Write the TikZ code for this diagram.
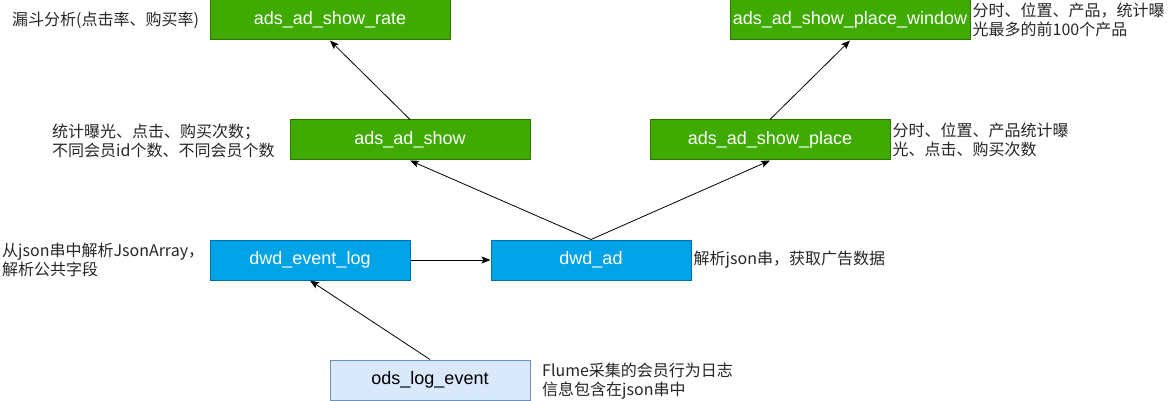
\documentclass[tikz,border=0pt]{standalone}
\usepackage{fontspec}
\setmainfont{Liberation Sans}
\newfontfamily\cjk{Noto Sans CJK SC}
\usepackage{tikz}
\usetikzlibrary{arrows.meta, positioning}

\definecolor{adsgreen}{HTML}{3FAA00}
\definecolor{adsline}{HTML}{2D7600}
\definecolor{dwdblue}{HTML}{00A3E6}
\definecolor{dwdline}{HTML}{006EAF}
\definecolor{odsblue}{HTML}{DAE8FC}
\definecolor{odsline}{HTML}{6C8EBF}

\begin{document}
\begin{tikzpicture}[x=1pt, y=-1pt, >={Stealth[length=9pt, width=7pt, inset=2pt]},
		every node/.style={font=\fontsize{18}{21}\selectfont},
		tbl/.style={draw, line width=1pt, minimum width=240pt, minimum height=40pt, inner sep=0pt, text=white},
		ads/.style={tbl, fill=adsgreen, draw=adsline},
		dwd/.style={tbl, fill=dwdblue, draw=dwdline, minimum width=200pt},
		ods/.style={tbl, fill=odsblue, draw=odsline, minimum width=200pt, text=black},
		note/.style={font=\cjk\fontsize{16}{19.5}\selectfont, align=left, inner sep=0pt, text=black!85}]
	\useasboundingbox (0,0) rectangle (1171,401);
	
	% Tables, one row per layer
	\node[ads] (rate) at (330,20) {ads\_ad\_show\_rate};
	\node[ads] (window) at (850,20) {ads\_ad\_show\_place\_window};
	\node[ads] (show) at (410,140) {ads\_ad\_show};
	\node[ads] (place) at (770,140) {ads\_ad\_show\_place};
	\node[dwd] (evlog) at (310,260) {dwd\_event\_log};
	\node[dwd, right=80pt of evlog] (ad) {dwd\_ad};
	\node[ods] (ods) at (430,380) {ods\_log\_event};
	
	% Notes beside the tables
	\node[note, anchor=west] (raten) at (12,20) {漏斗分析(点击率、购买率)};
	\node[note, right=2pt of window] (windown) {分时、位置、产品，统计曝\\光最多的前100个产品};
	\node[note, anchor=west] (shown) at (52,141) {统计曝光、点击、购买次数；\\不同会员id个数、不同会员个数};
	\node[note, right=2pt of place] (placen) {分时、位置、产品统计曝\\光、点击、购买次数};
	\node[note, anchor=west] (evlogn) at (2,260) {从json串中解析JsonArray，\\解析公共字段};
	\node[note, right=2pt of ad] (adn) {解析json串，获取广告数据};
	\node[note, anchor=west] (odsn) at (542,381) {Flume采集的会员行为日志\\信息包含在json串中};
	
	% Data flow
	\draw[->, line width=0.8pt] (ods.north) -- (evlog.south);
	\draw[->, line width=0.8pt] (evlog) -- (ad);
	\draw[->, line width=0.8pt] (ad.north) -- (show.south);
	\draw[->, line width=0.8pt] (ad.north) -- (place.south);
	\draw[->, line width=0.8pt] (show.north) -- (rate.south);
	\draw[->, line width=0.8pt] (place.north) -- (window.south);
\end{tikzpicture}
\end{document}
